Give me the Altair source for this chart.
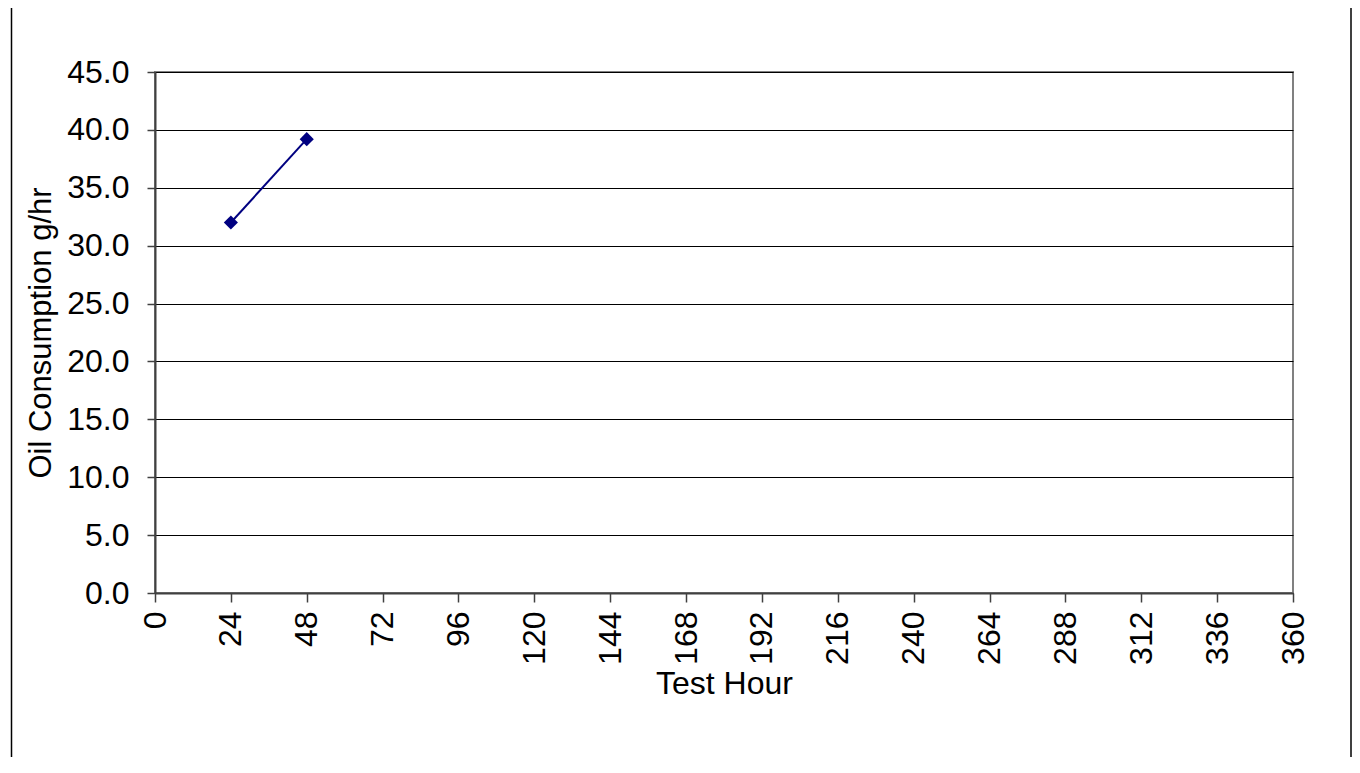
import altair as alt
import pandas as pd

# Data
test_hour = [24, 48]
oil_consumption = [32.0, 39.2]

x_ticks = list(range(0, 361, 24))
y_ticks = [0, 5, 10, 15, 20, 25, 30, 35, 40, 45]

df = pd.DataFrame({"Test Hour": test_hour, "Oil": oil_consumption})
one = pd.DataFrame({"a": [0]})

FONT = "Liberation Sans"
W, H = 1138, 521

x_enc = alt.X(
    "Test Hour:Q",
    scale=alt.Scale(domain=[0, 360], nice=False),
    axis=alt.Axis(
        title="Test Hour",
        values=x_ticks,
        format="d",
        labelAngle=270,
        labelAlign="right",
        labelBaseline="middle",
        labelPadding=9,
        labelFontSize=32,
        tickSize=9,
        tickColor="#404040",
        tickWidth=1.5,
        domainColor="#404040",
        domainWidth=2,
        grid=False,
        titleFontSize=32,
        titleY=100,
        titleBaseline="alphabetic",
        labelFlush=False,
        labelOverlap=False,
    ),
)
y_enc = alt.Y(
    "Oil:Q",
    scale=alt.Scale(domain=[0, 45], nice=False),
    axis=alt.Axis(
        title="Oil Consumption g/hr",
        values=y_ticks,
        format=".1f",
        labelFontSize=32,
        labelPadding=18,
        tickSize=8,
        tickColor="#404040",
        tickWidth=1.5,
        domainColor="#404040",
        domainWidth=2,
        grid=True,
        gridColor="#000000",
        gridWidth=1.2,
        titleFontSize=31,
        titleX=-105,
        titleBaseline="alphabetic",
        labelFlush=False,
        labelOverlap=False,
    ),
)

line = alt.Chart(df).mark_line(color="#000080", strokeWidth=2).encode(x=x_enc, y=y_enc)
pts = alt.Chart(df).mark_point(
    shape="diamond", filled=True, color="#000080", size=200, opacity=1
).encode(x="Test Hour:Q", y="Oil:Q")

left_border = alt.Chart(one).mark_rule(color="#000000", strokeWidth=1.5).encode(
    x=alt.value(-143.5), y=alt.value(-64), y2=alt.value(H + 170)
)
right_border = alt.Chart(one).mark_rule(color="#000000", strokeWidth=1.5).encode(
    x=alt.value(W + 58), y=alt.value(-64), y2=alt.value(H + 170)
)

chart = (
    alt.layer(left_border, right_border, line, pts)
    .properties(
        width=W,
        height=H,
        autosize=alt.AutoSizeParams(type="none"),
        padding={"left": 147, "top": 64, "right": 59, "bottom": 164},
    )
    .configure(font=FONT)
    .configure_axis(labelColor="#000000", titleColor="#000000", titleFontWeight="normal")
    .configure_view(stroke="#808080", strokeWidth=2)
)

chart.save("out.html", embed_options={"renderer": "svg", "actions": False})
